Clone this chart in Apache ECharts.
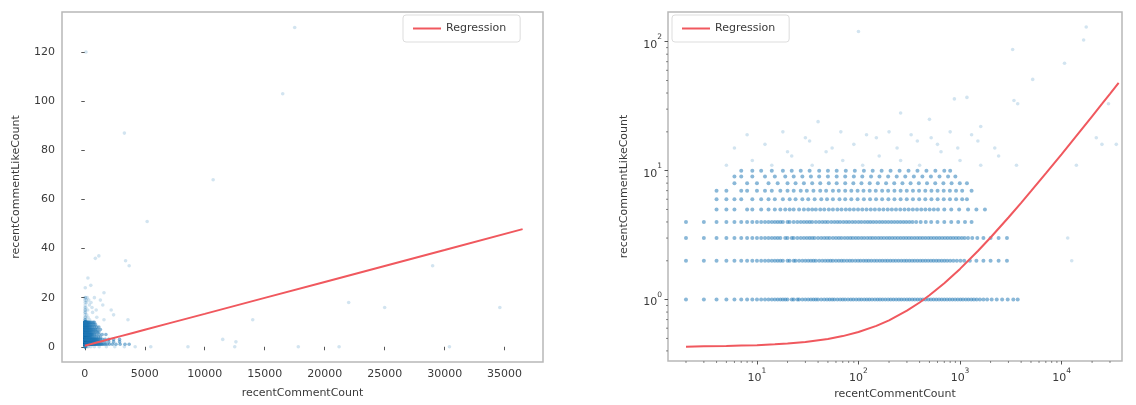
<!DOCTYPE html>
<html>
<head>
<meta charset="utf-8">
<script src="https://cdn.jsdelivr.net/npm/echarts@6/dist/echarts.min.js"></script>
<style>
  html, body { margin: 0; padding: 0; background: #fff; }
  #chart { width: 1136px; height: 405px; }
</style>
</head>
<body>
<div id="chart"></div>
<script>
// recentCommentCount values observed for each integer like count (1..10)
const likes1X = [2,3,4,5,6,7,8,9,10,11,12,13,14,15,16,17,18,19,20,22,23,25,26,28,30,32,34,36,38,40,43,46,49,52,55,58,62,66,70,74,79,84,89,95,101,107,114,121,128,136,145,154,163,173,184,196,208,221,235,250,265,282,300,318,338,359,382,406,431,458,487,517,550,584,621,660,701,745,792,842,895,951,1010,1070,1140,1210,1290,1370,1460,1570,1700,1850,2050,2300,2600,2950,3350,3700];
const likes2X = [2,3,4,5,6,7,8,9,10,11,12,13,14,15,16,17,18,20,21,23,24,26,28,30,32,34,36,38,41,44,47,50,53,56,60,64,68,72,77,82,87,93,99,105,112,119,126,134,143,152,162,172,183,194,206,219,233,248,264,281,298,317,337,358,381,405,430,457,486,517,549,584,620,660,702,748,800,860,930,1010,1100,1250,1450,1700,2000,2400,2900];
const likes3X = [2,3,4,5,6,7,8,9,10,11,12,13,14,15,16,17,19,20,22,23,25,27,29,31,33,35,37,40,43,46,49,52,56,60,64,68,73,78,83,88,94,100,107,114,122,130,138,147,157,167,178,190,202,215,229,244,260,277,295,314,334,356,379,403,429,457,487,518,552,588,626,667,710,756,805,857,913,972,1040,1110,1200,1320,1480,1700,2000,2400,2900];
const likes4X = [2,3,4,5,6,7,8,9,10,11,12,13,14,15,16,17,18,20,21,23,25,27,29,31,33,35,38,41,44,47,50,54,58,62,66,71,76,81,87,93,100,107,115,123,131,140,150,161,172,184,197,211,226,242,259,277,296,317,340,370,410,460,520,600,700,820,960,1120,1300];
const likes5X = [4,5,6,8,9,11,13,15,17,19,21,23,26,29,32,35,38,42,46,51,56,62,68,75,82,90,99,109,120,132,145,160,176,194,213,234,258,284,312,343,377,415,456,502,552,607,700,820,980,1200,1450,1760];
const likes6X = [4,5,6,7,9,11,13,15,18,21,24,28,32,37,43,49,56,65,74,85,98,113,130,149,171,197,226,260,299,344,396,455,523,602,692,796,915,1050,1170];
const likes7X = [4,5,7,8,10,12,14,17,20,23,27,31,36,42,48,56,64,74,85,98,112,129,148,171,196,226,260,299,344,395,455,523,601,691,795,914,1050,1300];
const likes8X = [6,8,10,13,16,20,24,29,35,42,51,61,74,89,107,129,155,187,225,271,326,393,473,570,686,826,995,1170];
const likes9X = [6,7,9,12,15,19,23,28,34,41,50,61,74,90,109,133,161,196,238,289,351,426,517,628,763,900];
const likes10X = [7,9,11,14,18,22,27,33,41,50,61,75,92,113,138,169,207,254,311,381,467,572,700,800];

// sparse (recentCommentCount, likeCount) pairs away from the dense rows
const otherPoints = [
  [5,11],[9,12],[14,11],[22,13],[35,11],[48,14],[70,12],[110,11],[160,13],[260,12],[400,11],[650,14],[1000,12],[1600,11],[2400,13],[3600,11],
  [6,15],[12,16],[20,14],[33,17],[55,15],[90,16],[150,18],[240,15],[380,17],[600,16],[950,15],[1500,17],[2200,15],
  [8,19],[18,20],[30,18],[67,20],[120,19],[200,20],[330,19],[520,18],[800,20],[1300,19],
  [880,36],[3700,33],[1600,22],[3300,87],[17500,130],[16500,103],[10700,68],[5200,51],[25000,16],[34600,16],
  [29000,33],[14000,11],[100,120],[1170,37],[3400,35],[22000,18],[12600,2],[11500,3],[40,24],[260,28],[500,25]
];

// recentCommentCount values whose like count is zero
const zeroLikesX = [1,2,3,5,8,12,20,30,50,80,120,200,300,500,800,1200,1800,2500,3300,4200,5500,8600,12500,17800,21200,30400];

// fitted regression line
const fitX = [2,3,5,7,10,15,20,30,50,70,100,150,200,300,400,500,700,1000,1500,2000,3000,4000,5000,7000,10000,15000,20000,25000,30000,36500];
const fitY = [0.43,0.434,0.437,0.44,0.443,0.45,0.456,0.469,0.495,0.521,0.56,0.625,0.69,0.82,0.95,1.08,1.34,1.73,2.38,3.03,4.33,5.63,6.93,9.53,13.4,19.9,26.4,32.9,39.4,47.9];

// minor tick positions of the log axes
const minorTicksX = [2,3,4,5,6,7,8,9,20,30,40,50,60,70,80,90,200,300,400,500,600,700,800,900,2000,3000,4000,5000,6000,7000,8000,9000,20000,30000];
const minorTicksY = [0.4,0.5,0.6,0.7,0.8,0.9,2,3,4,5,6,7,8,9,20,30,40,50,60,70,80,90];

const LEGEND_NAME = 'Regression';
const X_NAME = 'recentCommentCount';
const Y_NAME = 'recentCommentLikeCount';

// axis extents
const linX = [-1900, 38200];
const linY = [-6.2, 136.3];
const logX = [1.33, 39400];
const logY = [0.334, 170];

const rowList = [likes1X, likes2X, likes3X, likes4X, likes5X, likes6X, likes7X, likes8X, likes9X, likes10X];
const rowPoints = [];
rowList.forEach((xs, i) => xs.forEach(x => rowPoints.push([x, i + 1])));
const sparsePoints = otherPoints.concat(zeroLikesX.map(x => [x, 0]));
const fitLine = fitX.map((x, i) => [x, fitY[i]]);

const FONT = 'DejaVu Sans';
const FS = 11;
const TEXT = '#3a3a3a';
const FRAME = '#b8b8b8';
const DOT_DENSE = 'rgba(31,119,180,0.65)';
const DOT_SPARSE = 'rgba(31,119,180,0.25)';
const RED = '#f0585e';

function powLabel(v) {
  const e = Math.log10(v);
  const r = Math.round(e);
  if (Math.abs(e - r) > 1e-6) return '';
  return '{b|10}{s|' + r + '}';
}
const powRich = {
  b: { fontFamily: FONT, fontSize: FS, color: TEXT, lineHeight: 17, verticalAlign: 'bottom' },
  s: { fontFamily: FONT, fontSize: 7.5, color: TEXT, lineHeight: 17, verticalAlign: 'top' }
};

function baseAxis(extra) {
  return Object.assign({
    axisLine: { show: false },
    axisTick: { show: true, length: 3.5, lineStyle: { color: '#444', width: 0.9 } },
    splitLine: { show: false },
    nameLocation: 'middle',
    nameTextStyle: { fontFamily: FONT, fontSize: FS, color: TEXT }
  }, extra);
}

function minorTickSeries(values, xi, dir) {
  return {
    type: 'custom',
    xAxisIndex: xi,
    yAxisIndex: xi,
    silent: true,
    z: 5,
    data: values.map(v => dir === 'x' ? [v, logY[0]] : [logX[0], v]),
    encode: { x: 0, y: 1 },
    renderItem: (params, api) => {
      const p = api.coord([api.value(0), api.value(1)]);
      const shape = dir === 'x'
        ? { x1: p[0], y1: p[1], x2: p[0], y2: p[1] + 2 }
        : { x1: p[0], y1: p[1], x2: p[0] - 2, y2: p[1] };
      return { type: 'line', shape, style: { stroke: '#555', lineWidth: 0.7 } };
    }
  };
}

function scatter(name, idx, data, color, size) {
  return {
    type: 'scatter', name, xAxisIndex: idx, yAxisIndex: idx,
    data, symbolSize: size, itemStyle: { color }, silent: true, z: 2
  };
}

const legendBase = {
  data: [LEGEND_NAME], icon: 'rect', itemWidth: 28, itemHeight: 2, itemGap: 10,
  padding: [8, 14, 8, 10], borderColor: '#dddddd', borderWidth: 1, borderRadius: 3,
  textStyle: { fontFamily: FONT, fontSize: FS, color: TEXT }, selectedMode: false
};

const chart = echarts.init(document.getElementById('chart'), null, { renderer: 'canvas' });
chart.setOption({
  animation: false,
  backgroundColor: '#fff',
  textStyle: { fontFamily: FONT },
  grid: [
    { left: 62, top: 12, width: 481, height: 350, show: true, borderColor: FRAME, borderWidth: 1.5, backgroundColor: 'transparent' },
    { left: 668, top: 12, width: 454, height: 350, show: true, borderColor: FRAME, borderWidth: 1.5, backgroundColor: 'transparent' }
  ],
  legend: [
    Object.assign({ left: 403, top: 15 }, legendBase),
    Object.assign({ left: 672, top: 15 }, legendBase)
  ],
  xAxis: [
    baseAxis({
      type: 'value', gridIndex: 0, min: linX[0], max: linX[1], splitNumber: 8,
      name: X_NAME, nameGap: 26,
      axisLabel: { showMinLabel: false, showMaxLabel: false, fontFamily: FONT, fontSize: FS, color: TEXT, margin: 7,
        formatter: v => String(v) }
    }),
    baseAxis({
      type: 'log', logBase: 10, gridIndex: 1, min: logX[0], max: logX[1], splitNumber: 4,
      name: X_NAME, nameGap: 28,
      axisLabel: { showMinLabel: false, showMaxLabel: false, formatter: powLabel, rich: powRich, margin: 6 }
    })
  ],
  yAxis: [
    baseAxis({
      type: 'value', gridIndex: 0, min: linY[0], max: linY[1], splitNumber: 7,
      name: Y_NAME, nameGap: 40,
      axisLabel: { showMinLabel: false, showMaxLabel: false, fontFamily: FONT, fontSize: FS, color: TEXT, margin: 7 }
    }),
    baseAxis({
      type: 'log', logBase: 10, gridIndex: 1, min: logY[0], max: logY[1], splitNumber: 2,
      name: Y_NAME, nameGap: 38,
      axisLabel: { showMinLabel: false, showMaxLabel: false, formatter: powLabel, rich: powRich, margin: 6 }
    })
  ],
  series: [
    scatter('observations', 0, rowPoints, DOT_DENSE, 3.6),
    scatter('sparse observations', 0, sparsePoints, DOT_SPARSE, 3.6),
    {
      type: 'line', name: LEGEND_NAME, xAxisIndex: 0, yAxisIndex: 0,
      data: fitLine, showSymbol: false, smooth: false,
      lineStyle: { color: RED, width: 2 }, itemStyle: { color: RED }, silent: true, z: 3
    },
    scatter('observations (log)', 1, rowPoints, DOT_DENSE, 4),
    // zero like counts cannot sit on a log axis, so only the positive sparse pairs go here
    scatter('sparse observations (log)', 1, otherPoints, DOT_SPARSE, 3.6),
    {
      type: 'line', name: LEGEND_NAME, xAxisIndex: 1, yAxisIndex: 1,
      data: fitLine, showSymbol: false, smooth: false,
      lineStyle: { color: RED, width: 2 }, itemStyle: { color: RED }, silent: true, z: 3
    },
    minorTickSeries(minorTicksX, 1, 'x'),
    minorTickSeries(minorTicksY, 1, 'y')
  ]
});
</script>
</body>
</html>
